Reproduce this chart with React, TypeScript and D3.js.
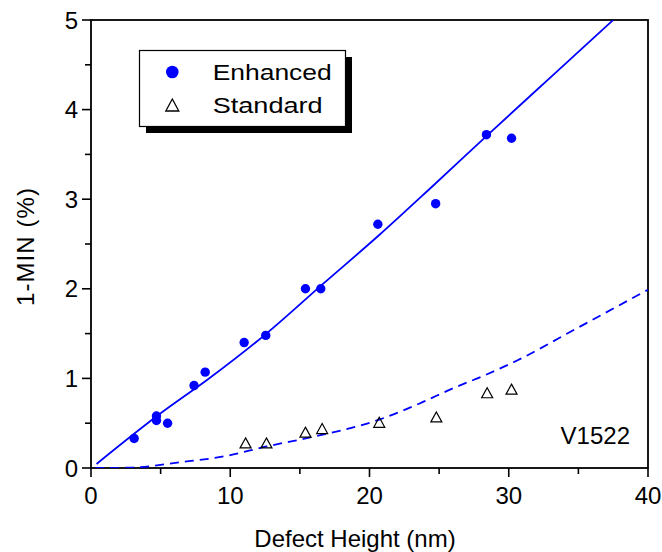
import React from 'react'
import * as d3 from 'd3'

const enhancedX = [3.1, 4.7, 4.7, 5.5, 7.4, 8.2, 11.0, 12.55, 15.4, 16.5, 20.6, 24.75, 28.4, 30.2]
const enhancedY = [0.33, 0.58, 0.53, 0.5, 0.92, 1.07, 1.4, 1.48, 2.0, 2.0, 2.72, 2.95, 3.72, 3.68]

const standardX = [11.1, 12.6, 15.4, 16.6, 20.7, 24.8, 28.45, 30.2]
const standardY = [0.28, 0.28, 0.4, 0.44, 0.51, 0.57, 0.84, 0.88]

// fitted curves
const enhancedFitX = [0.4, 5.0, 8.4, 12.6, 16.7, 20.7, 24.7, 28.65, 33.0, 37.5]
const enhancedFitY = [0.045, 0.61, 0.99, 1.5, 2.06, 2.6, 3.17, 3.74, 4.36, 5.0]

const standardFitX = [0.3, 3.0, 6.4, 9.7, 12.6, 16.0, 20.7, 23.6, 26.0, 28.2, 30.6, 34.9, 40]
const standardFitY = [0, 0.005, 0.064, 0.134, 0.24, 0.35, 0.54, 0.72, 0.89, 1.03, 1.2, 1.56, 1.99]

const xMajor = [0, 10, 20, 30, 40]
const xMinor = [5, 15, 25, 35]
const yMajor = [0, 1, 2, 3, 4, 5]
const yMinor = [0.5, 1.5, 2.5, 3.5, 4.5]

const FONT = '"Liberation Sans", Arial, Helvetica, sans-serif'
const BLUE = '#0000ff'

export default function App() {
  const width = 662
  const height = 552
  const x = d3.scaleLinear().domain([0, 40]).range([91, 648])
  const y = d3.scaleLinear().domain([0, 5]).range([468, 20])

  const line = d3.line<[number, number]>()
    .x((d) => x(d[0]))
    .y((d) => y(d[1]))
    .curve(d3.curveMonotoneX)

  const enhancedFit = line(enhancedFitX.map((v, i) => [v, enhancedFitY[i]] as [number, number])) || ''
  const standardFit = line(standardFitX.map((v, i) => [v, standardFitY[i]] as [number, number])) || ''

  const tri = (cx: number, cy: number, w: number, h: number) =>
    `M${cx},${cy - h / 2}L${cx + w / 2},${cy + h / 2}L${cx - w / 2},${cy + h / 2}Z`

  const [x0, x1] = x.range()
  const [y0, y1] = y.range()

  return (
    <svg width={width} height={height} style={{ position: 'absolute', left: 0, top: 0 }} fontFamily={FONT}>
      <rect width={width} height={height} fill="#fff" />
      <defs>
        <clipPath id="plot">
          <rect x={x0} y={y1} width={x1 - x0} height={y0 - y1} />
        </clipPath>
      </defs>

      {/* frame */}
      <rect x={x0} y={y1} width={x1 - x0} height={y0 - y1} fill="none" stroke="#000" strokeWidth={1.8} />

      {/* x ticks */}
      {xMajor.map((t) => (
        <g key={'xM' + t}>
          <line x1={x(t)} x2={x(t)} y1={y0} y2={y0 + 9} stroke="#000" strokeWidth={1.6} />
          <text x={x(t)} y={504} fontSize={24} textAnchor="middle">{t}</text>
        </g>
      ))}
      {xMinor.map((t) => (
        <line key={'xm' + t} x1={x(t)} x2={x(t)} y1={y0} y2={y0 + 6} stroke="#000" strokeWidth={1.6} />
      ))}

      {/* y ticks */}
      {yMajor.map((t) => (
        <g key={'yM' + t}>
          <line x1={x0 - 9} x2={x0} y1={y(t)} y2={y(t)} stroke="#000" strokeWidth={1.6} />
          <text x={78} y={y(t) + 8.5} fontSize={24} textAnchor="end">{t}</text>
        </g>
      ))}
      {yMinor.map((t) => (
        <line key={'ym' + t} x1={x0 - 6} x2={x0} y1={y(t)} y2={y(t)} stroke="#000" strokeWidth={1.6} />
      ))}

      {/* axis titles */}
      <text x={355} y={547} fontSize={24} textAnchor="middle">Defect Height (nm)</text>
      <text
        transform={`translate(34,247) rotate(-90)`}
        fontSize={24}
        textAnchor="middle"
        textLength={118}
        lengthAdjust="spacing"
      >
        1-MIN (%)
      </text>

      {/* fits */}
      <g clipPath="url(#plot)">
        <path d={enhancedFit} fill="none" stroke={BLUE} strokeWidth={1.8} />
        <path d={standardFit} fill="none" stroke={BLUE} strokeWidth={1.8} strokeDasharray="9,6" />
      </g>

      {/* data */}
      {enhancedX.map((v, i) => (
        <circle key={'e' + i} cx={x(v)} cy={y(enhancedY[i])} r={4.7} fill={BLUE} />
      ))}
      {standardX.map((v, i) => (
        <path key={'s' + i} d={tri(x(v), y(standardY[i]), 11, 10)} fill="none" stroke="#000" strokeWidth={1.2} />
      ))}

      <text x={630} y={444} fontSize={24} textAnchor="end">V1522</text>

      {/* legend */}
      <rect x={146} y={57} width={206} height={76} fill="#000" />
      <rect x={139.5} y={50.5} width={206} height={76} fill="#fff" stroke="#000" strokeWidth={1.2} />
      <circle cx={172.3} cy={72} r={6.3} fill={BLUE} />
      <path d={tri(172.3, 105, 13, 12)} fill="none" stroke="#000" strokeWidth={1.3} />
      <text x={212.7} y={80} fontSize={22} textLength={119} lengthAdjust="spacingAndGlyphs">Enhanced</text>
      <text x={212.7} y={113} fontSize={22} textLength={110} lengthAdjust="spacingAndGlyphs">Standard</text>
    </svg>
  )
}
